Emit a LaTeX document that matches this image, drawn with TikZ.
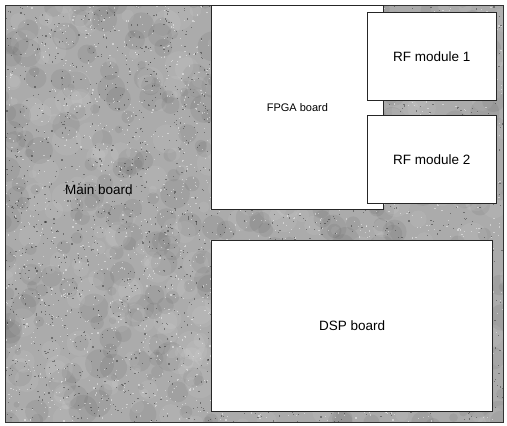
\documentclass[tikz,border=0pt]{standalone}
\usepackage{fontspec}
\setmainfont{Liberation Sans}
\begin{document}
\begin{tikzpicture}[x=1pt,y=-1pt,
  board/.style={draw=black!85,line width=0.9pt,fill=white,rectangle,inner sep=0pt,anchor=north west,font=\fontsize{13.5}{15}\selectfont},
  lbl/.style={inner sep=0pt,font=\fontsize{13.5}{15}\selectfont}]
\useasboundingbox (0,0) rectangle (507,426);
% main board (textured gray)
\begin{scope}
  \clip (5,5) rectangle (503,422);
  \fill[black!33] (0,0) rectangle (507,426);
  \pgfmathsetseed{11}
  \foreach \i in {1,...,420}{
    \pgfmathsetmacro\px{rnd*507}
    \pgfmathsetmacro\py{rnd*426}
    \pgfmathsetmacro\pr{3+rnd*12}
    \fill[black,opacity=0.06] (\px,\py) circle (\pr pt);
  }
  \foreach \i in {1,...,380}{
    \pgfmathsetmacro\px{rnd*507}
    \pgfmathsetmacro\py{rnd*426}
    \pgfmathsetmacro\pr{3+rnd*12}
    \fill[white,opacity=0.07] (\px,\py) circle (\pr pt);
  }
  \foreach \i in {1,...,2500}{
    \pgfmathsetmacro\px{rnd*507}
    \pgfmathsetmacro\py{rnd*426}
    \fill[black,opacity=0.35] (\px,\py) rectangle ++(1.2,1.2);
  }
  \foreach \i in {1,...,2500}{
    \pgfmathsetmacro\px{rnd*507}
    \pgfmathsetmacro\py{rnd*426}
    \fill[white,opacity=0.45] (\px,\py) rectangle ++(1.2,1.2);
  }
\end{scope}
\node[draw=black!80,line width=0.7pt,rectangle,inner sep=0pt,anchor=north west,minimum width=498pt,minimum height=417pt] (main) at (5,5) {};
\node[lbl] (mainlbl) at (99,190) {Main board};
% FPGA board
\node[board,minimum width=172pt,minimum height=204pt,font=\fontsize{11}{13}\selectfont] (fpga) at (211,5) {FPGA board};
% RF modules
\node[board,line width=0.7pt,minimum width=129pt,minimum height=88pt] (rf1) at (367,12) {RF module 1};
\node[board,line width=0.7pt,minimum width=129pt,minimum height=88pt] (rf2) at (367,115) {RF module 2};
% DSP board
\node[board,line width=1.1pt,minimum width=281pt,minimum height=171pt] (dsp) at (211,240) {DSP board};
\end{tikzpicture}
\end{document}
